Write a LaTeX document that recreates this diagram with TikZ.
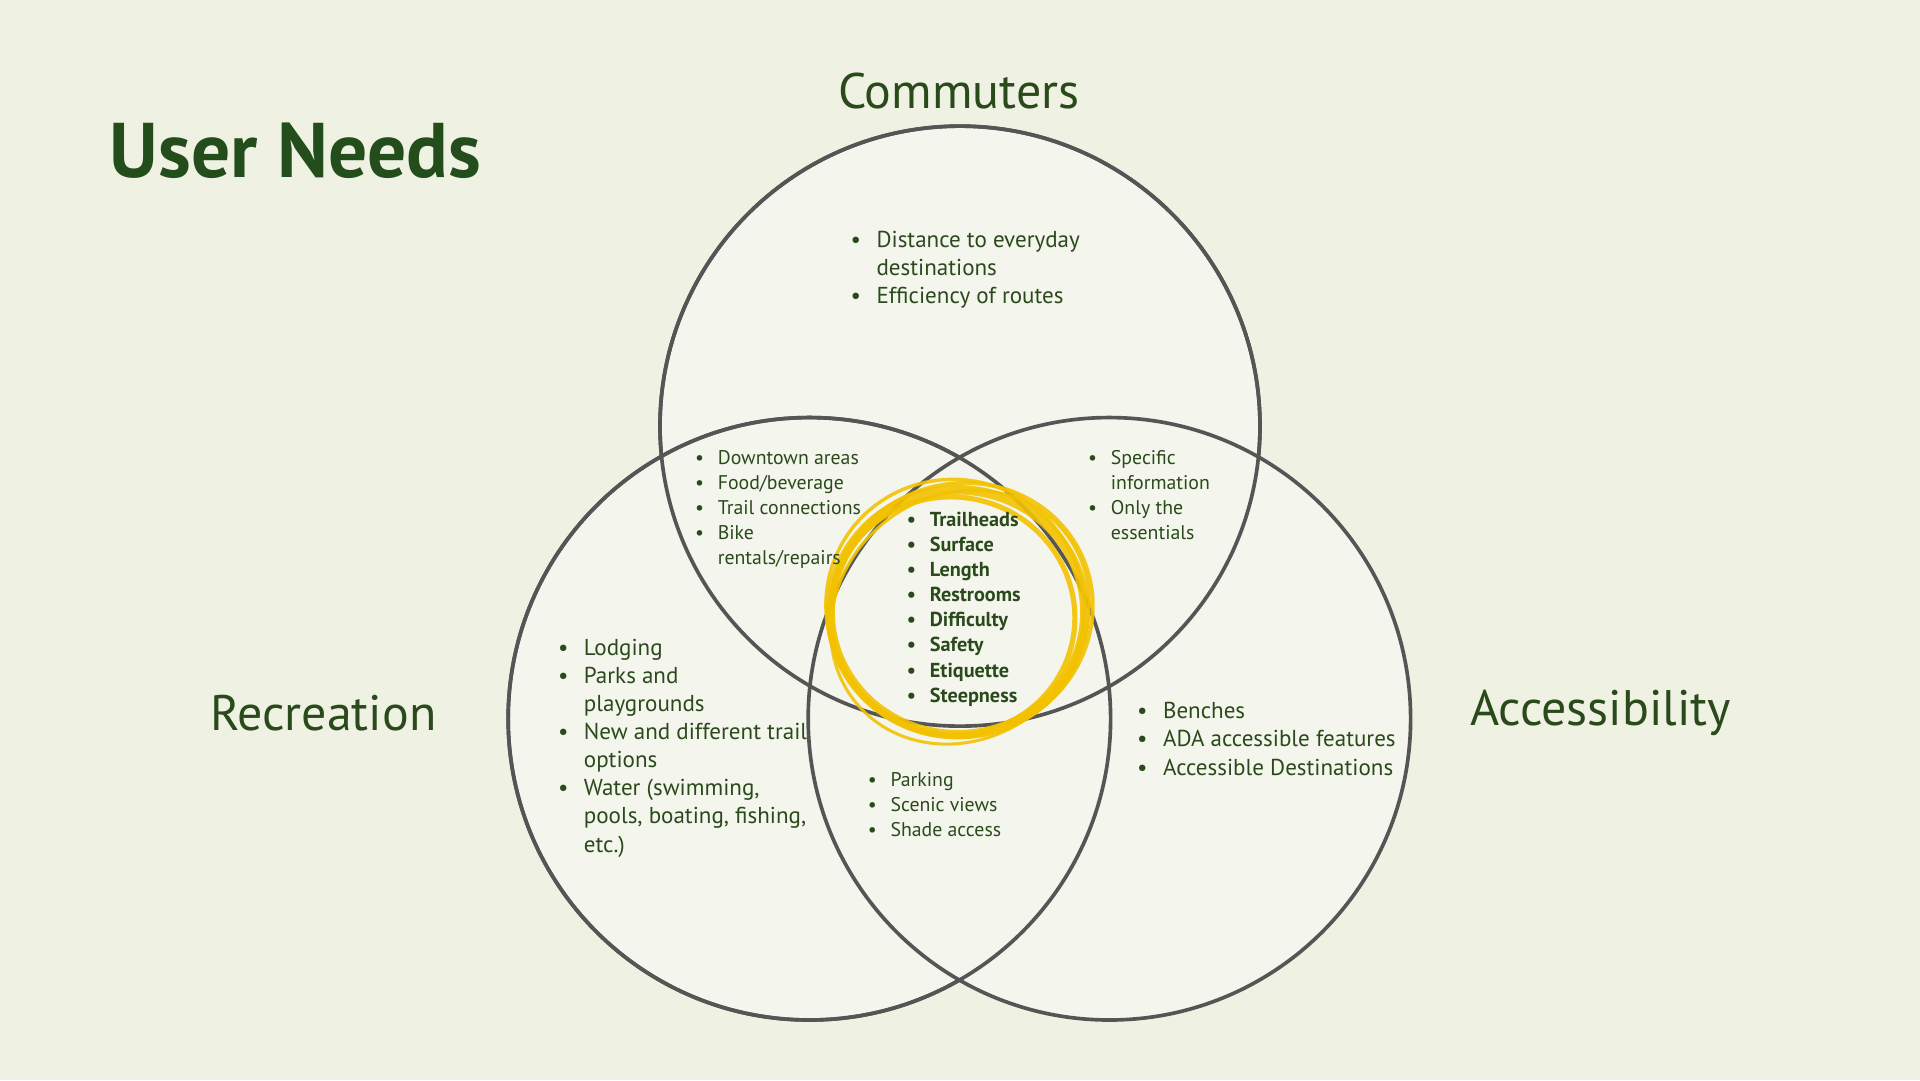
\documentclass[tikz,border=0pt]{standalone}
\usepackage{fontspec}
\setmainfont{PT Sans}
\definecolor{bg}{HTML}{EFF1E3}
\definecolor{cf}{HTML}{F4F5EC}
\definecolor{txt}{HTML}{2A4A1C}
\definecolor{ttl}{HTML}{234D1A}
\definecolor{ring}{HTML}{555555}
\definecolor{yel}{HTML}{F2C200}
\newcommand{\bl}{\textbullet}
\begin{document}
\begin{tikzpicture}[x=0.1mm,y=-0.1mm,
  venn/.style={draw=ring,line width=0.85pt,fill=cf},
  lst/.style={anchor=base west,inner sep=0pt,text=txt},
  big/.style={font=\fontsize{5.35}{6.54}\selectfont,lst},
  small/.style={font=\fontsize{4.6}{5.83}\selectfont,lst},
  lab/.style={text=txt,font=\fontsize{11.6}{14}\selectfont}]
\fill[bg] (0,0) rectangle (1568,882);
\useasboundingbox (0,0) rectangle (1568,882);
\path[venn] (784,348) circle (245);
\path[venn] (661,587) circle (246);
\path[venn] (906,587) circle (246);
\draw[ring,line width=0.85pt] (784,348) circle (245);
\draw[ring,line width=0.85pt] (661,587) circle (246);
% yellow scribble
\foreach \dx/\dy/\rx/\ry/\w/\a in {0/0/104/100/2.2/0, 3/-2/108/103/0.9/20, -4/3/100/97/1.2/-15, 2/4/110/99/0.7/40, -2/-4/106/104/0.8/-30}
  \draw[yel,line width=\w pt,opacity=0.9,rotate around={\a:(782+\dx,500+\dy)}] (782+\dx,500+\dy) ellipse ({\rx} and {\ry});
\node[anchor=base west,inner sep=0pt,text=ttl,font=\fontsize{18}{22}\selectfont\bfseries] (title) at (89,145) {User Needs};
\node[lab] (com) at (783,74) {Commuters};
\node[lab] (rec) at (264,582) {Recreation};
\node[lab] (acc) at (1307,582) {Accessibility};
\def\arraystretch{1}
\node[big] (t) at (694,202) {\begin{tabular}[t]{@{}l@{\hspace{3.6pt}}l@{}}\bl&Distance to everyday\\&destinations\\\bl&Efficiency of routes\end{tabular}};
\node[small] (ul) at (567,379) {\begin{tabular}[t]{@{}l@{\hspace{3.2pt}}l@{}}\bl&Downtown areas\\\bl&Food/beverage\\\bl&Trail connections\\\bl&Bike\\&rentals/repairs\end{tabular}};
\node[small] (ur) at (888,379) {\begin{tabular}[t]{@{}l@{\hspace{3.2pt}}l@{}}\bl&Specific\\&information\\\bl&Only the\\&essentials\end{tabular}};
\node[small,font=\fontsize{4.7}{5.83}\selectfont\bfseries] (c) at (740,430) {\begin{tabular}[t]{@{}l@{\hspace{3.2pt}}l@{}}\bl&Trailheads\\\bl&Surface\\\bl&Length\\\bl&Restrooms\\\bl&Difficulty\\\bl&Safety\\\bl&Etiquette\\\bl&Steepness\end{tabular}};
\node[big] (l) at (455,535) {\begin{tabular}[t]{@{}l@{\hspace{3.6pt}}l@{}}\bl&Lodging\\\bl&Parks and\\&playgrounds\\\bl&New and different trail\\&options\\\bl&Water (swimming,\\&pools, boating, fishing,\\&etc.)\end{tabular}};
\node[small] (lm) at (708,642) {\begin{tabular}[t]{@{}l@{\hspace{3.2pt}}l@{}}\bl&Parking\\\bl&Scenic views\\\bl&Shade access\end{tabular}};
\node[big] (r) at (928,587) {\begin{tabular}[t]{@{}l@{\hspace{3.6pt}}l@{}}\bl&Benches\\\bl&ADA accessible features\\\bl&Accessible Destinations\end{tabular}};
\end{tikzpicture}
\end{document}
